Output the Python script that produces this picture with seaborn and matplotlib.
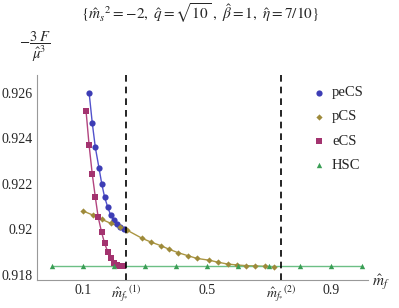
import numpy as np
import pandas as pd
import seaborn as sns
import matplotlib.pyplot as plt

# data
pecs_x = [0.120, 0.130, 0.140, 0.152, 0.161, 0.170, 0.180, 0.189, 0.199, 0.210, 0.220, 0.231]
pecs_y = [0.92601, 0.92470, 0.92361, 0.92269, 0.92199, 0.92142, 0.92098, 0.92065,
          0.92042, 0.92024, 0.92012, 0.92004]

ecs_x = [0.110, 0.120, 0.130, 0.140, 0.149, 0.160, 0.170, 0.180, 0.189, 0.200, 0.210, 0.219, 0.230]
ecs_y = [0.92522, 0.92370, 0.92245, 0.92142, 0.92056, 0.91989, 0.91939, 0.91902,
         0.91873, 0.91854, 0.91845, 0.91841, 0.91838]

pcs_x = [0.101, 0.131, 0.160, 0.190, 0.219, 0.241, 0.291, 0.319, 0.351, 0.378, 0.407,
         0.438, 0.467, 0.507, 0.536, 0.567, 0.597, 0.627, 0.656, 0.686, 0.716]
pcs_y = [0.92081, 0.92064, 0.92045, 0.92027, 0.92012, 0.91998, 0.91961, 0.91945,
         0.91929, 0.91913, 0.91898, 0.91885, 0.91873, 0.91865, 0.91856, 0.91848,
         0.91844, 0.91841, 0.91840, 0.91838, 0.91836]

hsc_x = [0.0, 0.1, 0.2, 0.3, 0.4, 0.5, 0.6, 0.7, 0.8, 0.9, 1.0]
hsc_y = [0.9184] * 11

mf_star = [0.239, 0.739]

yticks = [0.918, 0.920, 0.922, 0.924, 0.926]
ytick_labels = ['0.918', '0.92', '0.922', '0.924', '0.926']
xticks = [0.1, mf_star[0], 0.5, mf_star[1], 0.9]
xtick_labels = ['0.1', r'$\hat{m}_{f_{*}}{}^{(1)}$', '0.5', r'$\hat{m}_{f_{*}}{}^{(2)}$', '0.9']

sns.set_style("white")
plt.rcParams['font.family'] = ['Liberation Serif', 'DejaVu Serif']
plt.rcParams['mathtext.fontset'] = 'stix'

fig = plt.figure(figsize=(3.99, 3.08), dpi=100)
ax = fig.add_axes([37/399, 1-280/308, (368-37)/399, (280-75)/308])

series = [
    ('peCS', pecs_x, pecs_y, '#3d3db5', '#5252cc', 'o', 20),
    ('pCS', pcs_x, pcs_y, '#9e8a3a', '#ab9642', 'D', 10),
    ('eCS', ecs_x, ecs_y, '#a3336f', '#b2447f', 's', 13),
    ('HSC', hsc_x, hsc_y, '#3a9e55', '#6cbf85', '^', 15),
]

for name, xs, ys, mc, lc, mk, sz in series:
    df = pd.DataFrame({'x': xs, 'y': ys})
    sns.lineplot(data=df, x='x', y='y', ax=ax, color=lc, linewidth=1.0, sort=False)
    sns.scatterplot(data=df, x='x', y='y', ax=ax, color=mc, marker=mk, s=sz,
                    linewidth=0, label=name, zorder=3)

for v in mf_star:
    ax.axvline(v, color='black', linestyle=(0, (4, 3)), linewidth=1.2, zorder=4)

ax.set_xlim(-0.048, 1.019)
ax.set_ylim(0.91778, 0.92679)
ax.set_xticks(xticks)
ax.set_xticklabels(xtick_labels)
ax.set_yticks(yticks)
ax.set_yticklabels(ytick_labels)
ax.tick_params(direction='in', length=3, color='#999999', labelsize=10, pad=3)
ax.set_xlabel('')
ax.set_ylabel('')
sns.despine(ax=ax)
for sp in ['left', 'bottom']:
    ax.spines[sp].set_color('#999999')
    ax.spines[sp].set_linewidth(0.8)

leg = ax.legend(loc='upper left', bbox_to_anchor=(297/399, 1-73/308),
                bbox_transform=fig.transFigure, frameon=False, fontsize=10.5,
                labelspacing=0.75, handletextpad=0.3, handlelength=1.2,
                markerscale=1.0)

fig.text(200/399, 1-13/308,
         r'$\{\hat{m}_{s}{}^{2}=-2,\ \hat{q}=\sqrt{10}\ ,\ \hat{\beta}=1,\ \hat{\eta}=7/10\}$',
         ha='center', va='center', fontsize=11)
fig.text(35/399, 1-47/308, r'$-\dfrac{3\ F}{\hat{\mu}^{3}}$', ha='center', va='center',
         fontsize=10.5)
fig.text(372/399, 1-282/308, r'$\hat{m}_{f}$', ha='left', va='center', fontsize=11)

fig.savefig('out.png', dpi=100)
